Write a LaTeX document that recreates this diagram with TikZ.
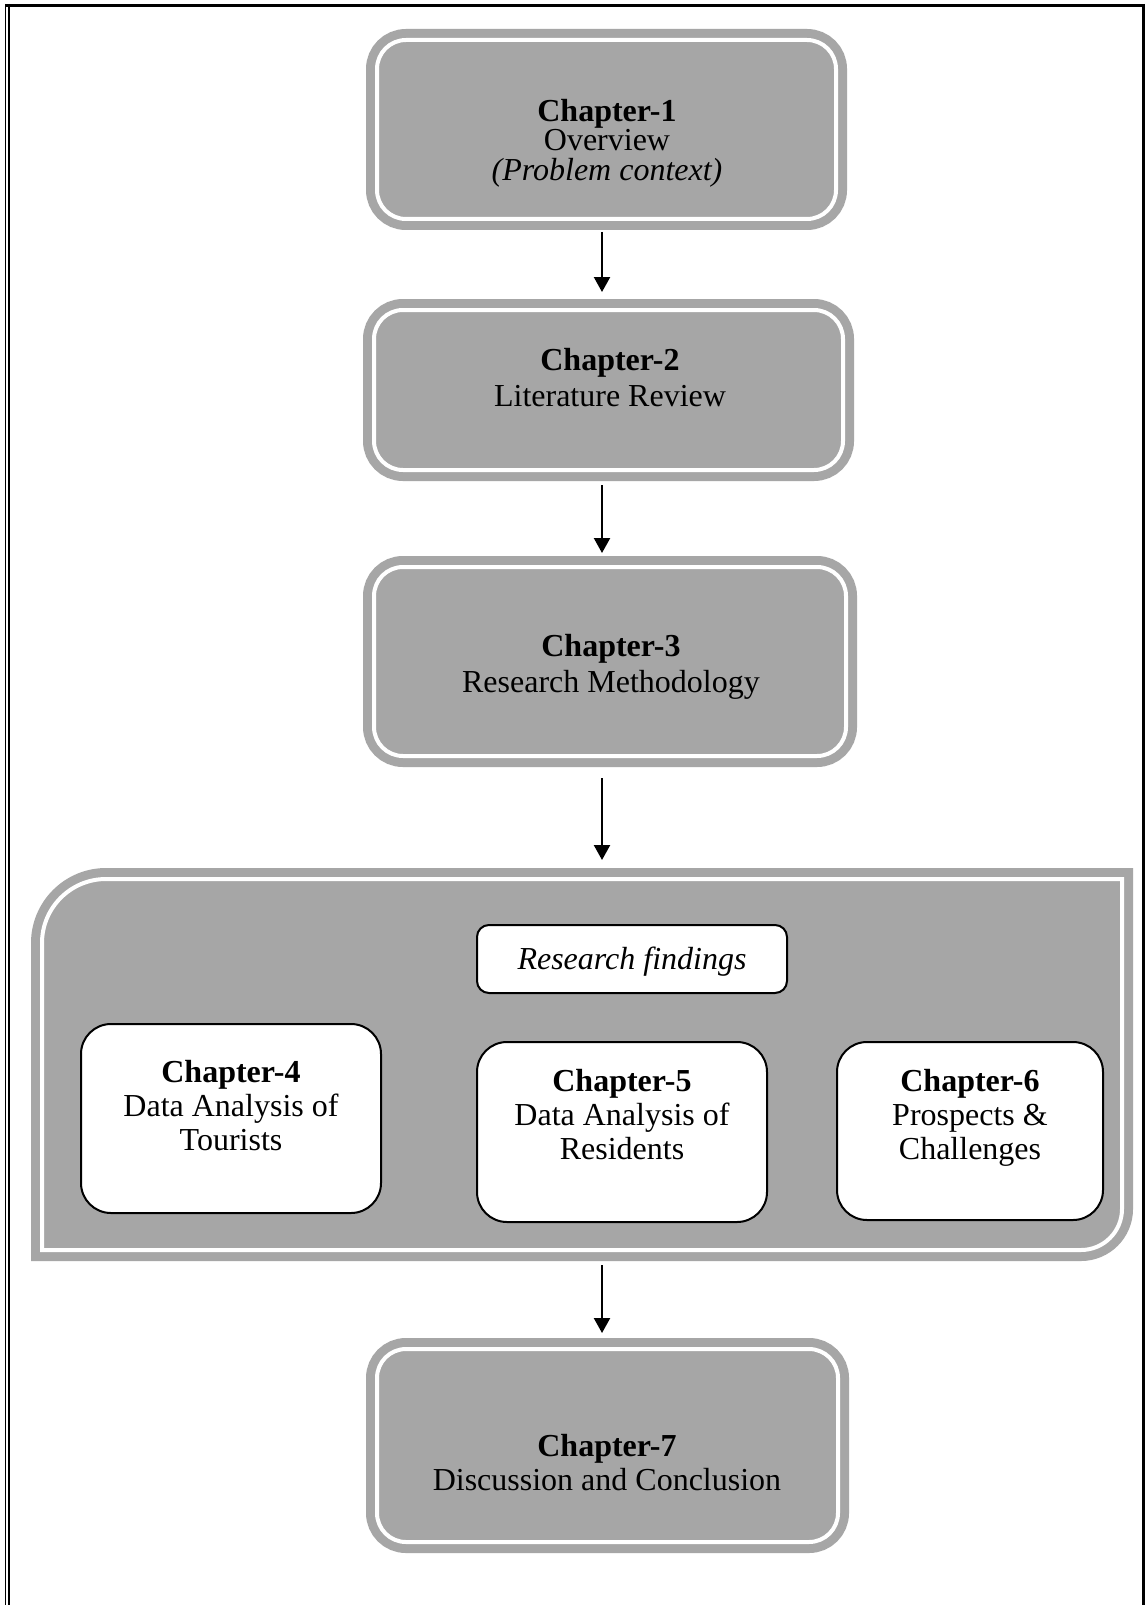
\documentclass[tikz,border=0pt]{standalone}
\usepackage{fontspec}
\setmainfont{Liberation Serif}
\usetikzlibrary{arrows.meta,calc}
\definecolor{boxgray}{RGB}{166,166,166}
\begin{document}
\begin{tikzpicture}[x=0.5pt,y=-0.5pt,
  chapbox/.style={draw=boxgray, fill=boxgray, double=white, double distance=2pt,
    line width=4.5pt, rounded corners=14.5pt, inner sep=0pt, outer sep=5.5pt},
  groupbox/.style={draw=boxgray, fill=boxgray, double=white, double distance=2pt,
    line width=4.5pt},
  subbox/.style={draw=black, fill=white, line width=1pt, rounded corners=15pt,
    inner sep=0pt, outer sep=0pt},
  txt/.style={align=center, inner sep=0pt, font=\fontsize{16pt}{17pt}\selectfont},
  flow/.style={line width=1.15pt, -{Triangle[length=7.5pt,width=8pt]}}]

% canvas
\fill[white] (0,0) rectangle (1145,1605);
\useasboundingbox (0,0) rectangle (1145,1605);

% page border
\draw[line width=1.5pt] (5,5.5) -- (1145,5.5);
\draw[line width=0.65pt] (5.7,4) -- (5.7,1605);
\draw[line width=1.15pt] (9,4) -- (9,1605);
\draw[line width=1.5pt] (1143,4) -- (1143,1605);

% chapter boxes
\node[chapbox, minimum width=229.5pt, minimum height=89.5pt] (c1) at (606.5,129.5) {};
\node[chapbox, minimum width=234.5pt, minimum height=80pt] (c2) at (608.5,390) {};
\node[chapbox, minimum width=236pt, minimum height=94.5pt] (c3) at (610,661.5) {};
\node[chapbox, minimum width=230.5pt, minimum height=96.5pt] (c7) at (607.5,1445.5) {};

% findings group
\node[inner sep=0pt, outer sep=0pt, minimum width=540pt, minimum height=185.5pt] (fb) at (582,1064.5) {};
\draw[groupbox] (fb.south west) -- ($(fb.north west)+(0,64)$)
  .. controls ($(fb.north west)+(0,28.7)$) and ($(fb.north west)+(28.7,0)$) .. ($(fb.north west)+(64,0)$)
  -- (fb.north east) -- ($(fb.south east)+(0,-41)$)
  .. controls ($(fb.south east)+(0,-18.4)$) and ($(fb.south east)+(-18.4,0)$) .. ($(fb.south east)+(-41,0)$)
  -- cycle;

\node[subbox, rounded corners=6pt, minimum width=155pt, minimum height=34pt] (rf) at (632,959) {};
\node[subbox, minimum width=150pt, minimum height=94.5pt] (c4) at (231,1118.5) {};
\node[subbox, minimum width=145pt, minimum height=90pt] (c5) at (622,1132) {};
\node[subbox, minimum width=133pt, minimum height=89pt] (c6) at (970,1131) {};

% texts
\node[txt, font=\fontsize{16pt}{14.8pt}\selectfont] (t1) at (607,143) {\textbf{Chapter-1}\\Overview\\\textit{(Problem context)}};
\node[txt, font=\fontsize{16pt}{18pt}\selectfont] (t2) at (610,378) {\textbf{Chapter-2}\\Literature Review};
\node[txt, font=\fontsize{16pt}{18pt}\selectfont] (t3) at (611,667) {\textbf{Chapter-3}\\Research Methodology};
\node[txt] (trf) at (632,962) {\textit{Research findings}};
\node[txt] (t4) at (231,1105.5) {\textbf{Chapter-4}\\Data Analysis of\\Tourists};
\node[txt] (t5) at (622,1115) {\textbf{Chapter-5}\\Data Analysis of\\Residents};
\node[txt] (t6) at (970,1118) {\textbf{Chapter-6}\\Prospects \&\\Challenges};
\node[txt] (t7) at (607,1463) {\textbf{Chapter-7}\\Discussion and Conclusion};

% flow arrows
\coordinate (ax) at (602,0);
\draw[flow, shorten <=1pt, shorten >=3.5pt] (c1.south -| ax) -- (c2.north -| ax);
\draw[flow, shorten <=2pt, shorten >=1.5pt] (c2.south -| ax) -- (c3.north -| ax);
\draw[flow, shorten <=5.5pt, shorten >=9.5pt] (c3.south -| ax) -- (fb.north -| ax);
\draw[flow, shorten <=7.5pt, shorten >=2.5pt] (fb.south -| ax) -- (c7.north -| ax);
\end{tikzpicture}
\end{document}
